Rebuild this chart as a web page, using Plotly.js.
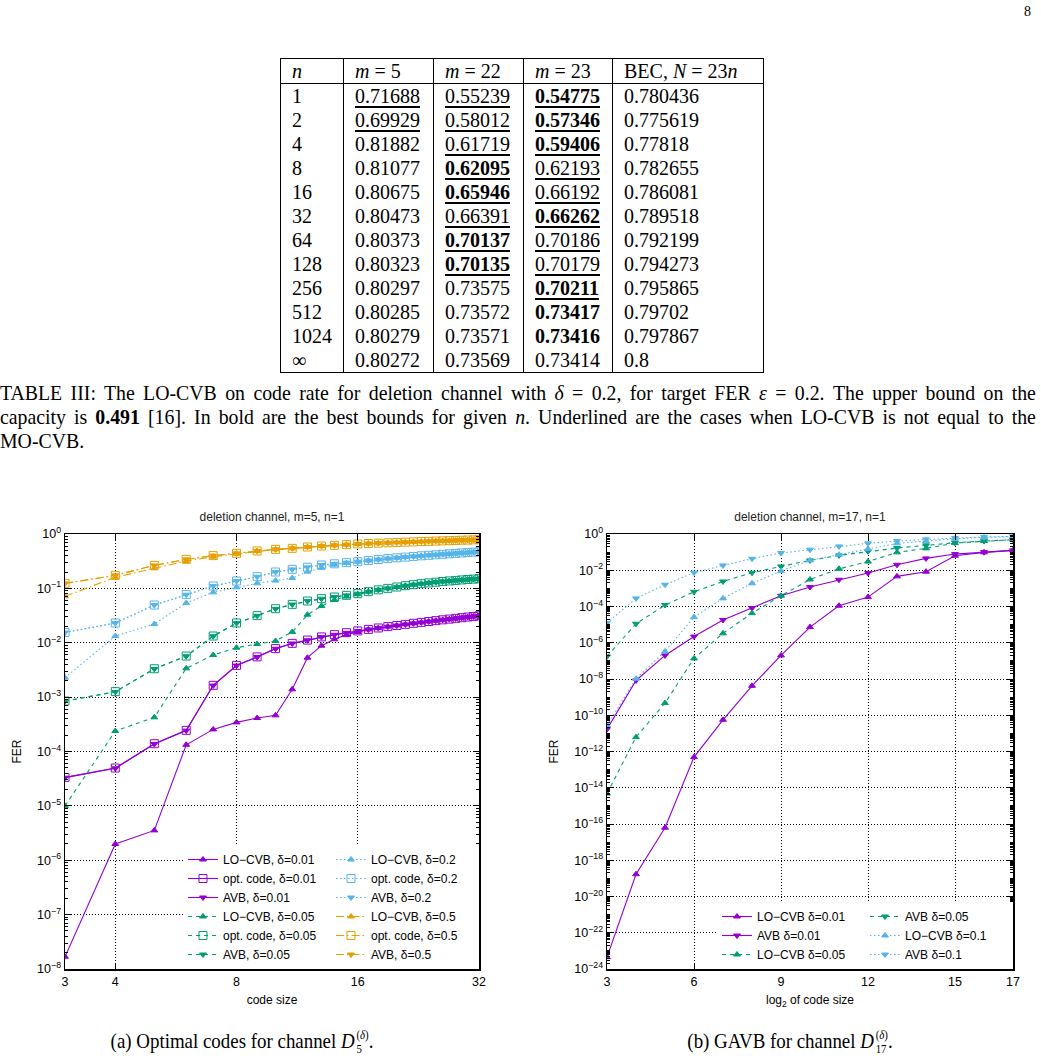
<!DOCTYPE html>
<html><head><meta charset="utf-8">
<script src="https://cdn.plot.ly/plotly-3.0.1.min.js"></script>
<style>
html,body{margin:0;padding:0;background:#fff;}
body{width:1041px;height:1059px;position:relative;overflow:hidden;font-family:"Liberation Serif","Times New Roman",serif;color:#000;}
#pg{position:absolute;left:1024px;top:4px;font-size:14px;}
#tbl{position:absolute;left:280px;top:58px;border-collapse:collapse;table-layout:fixed;font-size:20px;border:1.5px solid #000;}
#tbl td{padding:0 0 0 11px;height:24px;line-height:24px;border-left:1.5px solid #000;border-right:1.5px solid #000;white-space:nowrap;vertical-align:middle;}
#tbl tr.h td{border-bottom:1.5px solid #000;}
#tbl td.u span{text-decoration:underline;text-decoration-thickness:1.5px;text-underline-offset:3px;}
.cap{position:absolute;left:0;width:1151px;transform:scaleX(0.9);transform-origin:0 0;font-size:22px;line-height:24px;white-space:nowrap;}
.cap.j{text-align:justify;text-align-last:justify;}
.sub{position:absolute;top:1028px;font-size:21px;line-height:24px;transform:scaleX(0.9);transform-origin:50% 0;white-space:nowrap;}
.ss{display:inline-block;vertical-align:-5px;line-height:14px;font-size:12px;text-align:left;margin-left:2px;}
.ss span{display:block;height:14px;}
#chA{position:absolute;left:0;top:505px;width:520px;height:510px;}
#chB{position:absolute;left:525px;top:505px;width:516px;height:510px;}
</style></head>
<body>
<div id="pg">8</div>
<table id="tbl">
<colgroup><col style="width:63px"><col style="width:90px"><col style="width:90px"><col style="width:89px"><col style="width:151px"></colgroup>
<tbody id="tb"></tbody></table>
<div class="cap j" style="top:381px">TABLE III: The LO-CVB on code rate for deletion channel with <i>δ</i> = 0.2, for target FER <i>ε</i> = 0.2. The upper bound on the</div>
<div class="cap j" style="top:405px">capacity is <b>0.491</b> [16]. In bold are the best bounds for given <i>n</i>. Underlined are the cases when LO-CVB is not equal to the</div>
<div class="cap" style="top:429px">MO-CVB.</div>
<div id="chA"></div>
<div id="chB"></div>
<div class="sub" style="left:92px;width:300px;text-align:center">(a) Optimal codes for channel <i>D</i><span class="ss"><span>(<i>δ</i>)</span><span>5</span></span>.</div>
<div class="sub" style="left:640px;width:300px;text-align:center">(b) GAVB for channel <i>D</i><span class="ss"><span>(<i>δ</i>)</span><span>17</span></span>.</div>
<script>
// ---------- Table data ----------
const tblHeaders = ['<i>n</i>', '<i>m</i> = 5', '<i>m</i> = 22', '<i>m</i> = 23', 'BEC, <i>N</i> = 23<i>n</i>'];
const rowN = ['1','2','4','8','16','32','64','128','256','512','1024','∞'];
const colM5 = [0.71688,0.69929,0.81882,0.81077,0.80675,0.80473,0.80373,0.80323,0.80297,0.80285,0.80279,0.80272];
const colM22 = [0.55239,0.58012,0.61719,0.62095,0.65946,0.66391,0.70137,0.70135,0.73575,0.73572,0.73571,0.73569];
const colM23 = [0.54775,0.57346,0.59406,0.62193,0.66192,0.66262,0.70186,0.70179,0.70211,0.73417,0.73416,0.73414];
const colBEC = [0.780436,0.775619,0.77818,0.782655,0.786081,0.789518,0.792199,0.794273,0.795865,0.79702,0.797867,0.8];
const boldM5  = [0,0,0,0,0,0,0,0,0,0,0,0];
const underM5 = [1,1,0,0,0,0,0,0,0,0,0,0];
const boldM22  = [0,0,0,1,1,0,1,1,0,0,0,0];
const underM22 = [1,1,1,1,1,1,1,1,0,0,0,0];
const boldM23  = [1,1,1,0,0,1,0,0,1,1,1,0];
const underM23 = [1,1,1,1,1,1,1,1,1,0,0,0];

(function(){
  const tb = document.getElementById('tb');
  let h = '<tr class="h">' + tblHeaders.map(t => '<td>' + t + '</td>').join('') + '</tr>';
  const cell = (v, b, u) => {
    let s = String(v);
    if (b) s = '<b>' + s + '</b>';
    return '<td' + (u ? ' class="u"' : '') + '><span>' + s + '</span></td>';
  };
  for (let i = 0; i < rowN.length; i++) {
    h += '<tr><td>' + rowN[i] + '</td>' + cell(colM5[i], boldM5[i], underM5[i]) +
      cell(colM22[i], boldM22[i], underM22[i]) + cell(colM23[i], boldM23[i], underM23[i]) +
      cell(colBEC[i], 0, 0) + '</tr>';
  }
  tb.innerHTML = h;
})();

// ---------- Chart (a) data: deletion channel, m=5, n=1 ----------
const codeSize = [3,4,5,6,7,8,9,10,11,12,13,14,15,16,17,18,19,20,21,22,23,24,25,26,27,28,29,30,31,32];
const optA01 = [3.34e-5,4.97e-5,1.39e-4,2.45e-4,1.65e-3,3.84e-3,5.5e-3,7.8e-3,9.75e-3,1.12e-2,1.28e-2,1.41e-2,1.53e-2,1.65e-2,
  1.76e-2,1.87e-2,1.98e-2,2.08e-2,2.18e-2,2.28e-2,2.37e-2,2.46e-2,2.55e-2,2.64e-2,2.72e-2,2.81e-2,2.89e-2,2.97e-2,3.05e-2,3.13e-2];
const loA01 = [1.68e-8,1.99e-6,3.54e-6,1.33e-4,2.55e-4,3.43e-4,4.13e-4,4.62e-4,1.39e-3,5.31e-3,8.83e-3,1.16e-2,1.41e-2,1.58e-2,
  1.76e-2,1.87e-2,1.98e-2,2.08e-2,2.18e-2,2.28e-2,2.37e-2,2.46e-2,2.55e-2,2.64e-2,2.72e-2,2.81e-2,2.89e-2,2.97e-2,3.05e-2,3.13e-2];
const avbA01 = [3.3e-5,4.9e-5,1.37e-4,2.42e-4,1.63e-3,3.8e-3,5.45e-3,7.75e-3,9.7e-3,1.11e-2,1.27e-2,1.4e-2,1.52e-2,1.64e-2,
  1.75e-2,1.86e-2,1.97e-2,2.07e-2,2.17e-2,2.27e-2,2.36e-2,2.45e-2,2.54e-2,2.63e-2,2.71e-2,2.8e-2,2.88e-2,2.96e-2,3.04e-2,3.12e-2];

const optA05 = [8.48e-4,1.26e-3,3.33e-3,5.7e-3,1.33e-2,2.31e-2,3.15e-2,4.23e-2,5.08e-2,5.86e-2,6.47e-2,6.94e-2,7.45e-2,8.0e-2,
  0.087,0.094,0.100,0.106,0.112,0.117,0.122,0.126,0.130,0.134,0.137,0.140,0.143,0.146,0.148,0.151];
const loA05 = [1.0e-5,2.38e-4,4.25e-4,3.38e-3,5.95e-3,8.11e-3,9.48e-3,1.08e-2,1.58e-2,3.28e-2,4.74e-2,6.1e-2,7.1e-2,7.8e-2,
  0.087,0.094,0.100,0.106,0.112,0.117,0.122,0.126,0.130,0.134,0.137,0.140,0.143,0.146,0.148,0.151];
const avbA05 = [8.4e-4,1.25e-3,3.3e-3,5.65e-3,1.32e-2,2.29e-2,3.13e-2,4.2e-2,5.05e-2,5.83e-2,6.44e-2,6.91e-2,7.42e-2,7.97e-2,
  0.0867,0.0937,0.0997,0.1057,0.1117,0.1167,0.1217,0.1257,0.1297,0.1337,0.1367,0.1397,0.1427,0.1457,0.1477,0.1507];

const optA20 = [1.55e-2,2.31e-2,4.94e-2,7.66e-2,0.1106,0.1365,0.164,0.200,0.224,0.244,0.269,0.283,0.297,0.31,
  0.325,0.34,0.353,0.365,0.376,0.387,0.397,0.406,0.415,0.424,0.432,0.44,0.448,0.455,0.463,0.47];
const loA20 = [2.28e-3,1.33e-2,2.21e-2,5.38e-2,8.45e-2,0.1045,0.124,0.139,0.155,0.203,0.240,0.273,0.293,0.31,
  0.325,0.34,0.353,0.365,0.376,0.387,0.397,0.406,0.415,0.424,0.432,0.44,0.448,0.455,0.463,0.47];
const avbA20 = [1.54e-2,2.3e-2,4.92e-2,7.63e-2,0.1102,0.136,0.1635,0.1995,0.2235,0.2435,0.2685,0.2825,0.2965,0.3095,
  0.3245,0.3395,0.3525,0.3645,0.3755,0.3865,0.3965,0.4055,0.4145,0.4235,0.4315,0.4395,0.4475,0.4545,0.4625,0.4695];

const optA50 = [0.124,0.174,0.265,0.342,0.40,0.441,0.487,0.522,0.545,0.577,0.601,0.619,0.637,0.655,
  0.667,0.678,0.689,0.699,0.708,0.717,0.725,0.733,0.741,0.748,0.755,0.762,0.768,0.774,0.780,0.787];
const loA50 = [0.0713,0.16,0.234,0.319,0.383,0.435,0.487,0.522,0.545,0.577,0.601,0.619,0.637,0.655,
  0.667,0.678,0.689,0.699,0.708,0.717,0.725,0.733,0.741,0.748,0.755,0.762,0.768,0.774,0.780,0.787];
const avbA50 = [0.1235,0.1735,0.2645,0.3415,0.3995,0.4405,0.4865,0.5215,0.5445,0.5765,0.6005,0.6185,0.6365,0.6545,
  0.6665,0.6775,0.6885,0.6985,0.7075,0.7165,0.7245,0.7325,0.7405,0.7475,0.7545,0.7615,0.7675,0.7735,0.7795,0.7865];

const xTicksA = [3,4,8,16,32];
const yExpA = [-8,-7,-6,-5,-4,-3,-2,-1,0];

// ---------- Chart (b) data: deletion channel, m=17, n=1 ----------
const log2Size = [3,4,5,6,7,8,9,10,11,12,13,14,15,16,17];
const loB01  = [4.5e-24,1.7e-19,6.2e-17,4.9e-13,5.6e-11,4.2e-9,2.0e-7,7.3e-6,1.1e-4,3.3e-4,4.6e-3,8.3e-3,6.3e-2,9.7e-2,0.125];
const avbB01 = [1.7e-11,8.3e-9,2.0e-7,2.2e-6,1.8e-5,8.2e-5,3.9e-4,1.18e-3,3.0e-3,7.0e-3,2.0e-2,4.5e-2,7.8e-2,0.1,0.125];
const loB05  = [4.8e-15,6.2e-12,4.7e-10,1.36e-7,3.3e-6,4.3e-5,3.9e-4,3.1e-3,1.2e-2,3.0e-2,9.7e-2,0.161,0.317,0.41,0.484];
const avbB05 = [1.75e-7,1.12e-5,1.2e-4,6.5e-4,2.4e-3,7.3e-3,1.63e-2,3.5e-2,6.6e-2,0.11,0.168,0.236,0.331,0.41,0.484];
const loB10  = [2.8e-11,1.02e-8,3.3e-7,2.6e-5,2.8e-4,1.9e-3,9.0e-3,3.5e-2,7.2e-2,0.148,0.304,0.41,0.55,0.652,0.71];
const avbB10 = [1.22e-5,2.8e-4,1.6e-3,7.3e-3,1.85e-2,4.3e-2,8.9e-2,0.136,0.207,0.304,0.41,0.506,0.598,0.679,0.74];

const xTicksB = [3,6,9,12,15,17];
const yExpB = [-24,-22,-20,-18,-16,-14,-12,-10,-8,-6,-4,-2,0];

// ---------- Styling ----------
const F = '"Liberation Sans", Arial, Helvetica, sans-serif';
const C01 = '#9400D3', C05 = '#009E73', C20 = '#56B4E9', C50 = '#E69F00';
const D01 = 'solid', D05 = '4px,4px', D20 = '1.5px,2.5px', D50 = '8px,3px,1.5px,3px';

function tr(x, y, name, color, dash, sym, rank, size) {
  return {
    x: x, y: y, name: name, type: 'scatter', mode: 'lines+markers', legendrank: rank,
    line: {color: color, width: 1.1, dash: dash},
    marker: {symbol: sym, size: size, color: color, line: {color: color, width: 1}}
  };
}
function minorVals(lo, hi) {
  const v = [];
  for (let k = lo; k < hi; k++) for (let m = 2; m <= 9; m++) v.push(m * Math.pow(10, k));
  return v;
}
function powText(e) { return '10<sup>' + (e < 0 ? '\u2212' + (-e) : e) + '</sup>'; }

const axBase = {
  showline: true, linecolor: '#000', linewidth: 1.5, mirror: 'allticks',
  ticks: 'inside', ticklen: 6, tickcolor: '#000', tickwidth: 1,
  showgrid: true, gridcolor: '#000', griddash: '1px,2px', gridwidth: 1,
  zeroline: false, tickfont: {family: F, size: 12.5, color: '#000'}
};

// ----- chart A -----
const tracesA = [
  tr(codeSize, loA01,  'LO\u2212CVB, \u03b4=0.01', C01, D01, 'triangle-up', 1, 6),
  tr(codeSize, optA01, 'opt. code, \u03b4=0.01', C01, D01, 'square-open', 3, 8),
  tr(codeSize, avbA01, 'AVB, \u03b4=0.01', C01, D01, 'triangle-down', 5, 6),
  tr(codeSize, loA05,  'LO\u2212CVB, \u03b4=0.05', C05, D05, 'triangle-up', 7, 6),
  tr(codeSize, optA05, 'opt. code, \u03b4=0.05', C05, D05, 'square-open', 9, 8),
  tr(codeSize, avbA05, 'AVB, \u03b4=0.05', C05, D05, 'triangle-down', 11, 6),
  tr(codeSize, loA20,  'LO\u2212CVB, \u03b4=0.2', C20, D20, 'triangle-up', 2, 6),
  tr(codeSize, optA20, 'opt. code, \u03b4=0.2', C20, D20, 'square-open', 4, 8),
  tr(codeSize, avbA20, 'AVB, \u03b4=0.2', C20, D20, 'triangle-down', 6, 6),
  tr(codeSize, loA50,  'LO\u2212CVB, \u03b4=0.5', C50, D50, 'triangle-up', 8, 6),
  tr(codeSize, optA50, 'opt. code, \u03b4=0.5', C50, D50, 'square-open', 10, 8),
  tr(codeSize, avbA50, 'AVB, \u03b4=0.5', C50, D50, 'triangle-down', 12, 6)
];
const layoutA = {
  width: 520, height: 510, margin: {l: 65, r: 41, t: 29, b: 46},
  paper_bgcolor: '#fff', plot_bgcolor: '#fff',
  font: {family: F, size: 12, color: '#000'},
  title: {text: 'deletion channel, m=5, n=1', font: {family: F, size: 12, color: '#222'},
    x: 0.5, xref: 'paper', xanchor: 'center', y: 1 - 12 / 510, yref: 'container', yanchor: 'middle'},
  xaxis: Object.assign({}, axBase, {type: 'log', range: [Math.log10(3), Math.log10(32)],
    tickmode: 'array', tickvals: xTicksA, ticktext: xTicksA.map(String),
    title: {text: 'code size', font: {family: F, size: 12}, standoff: 8}}),
  yaxis: Object.assign({}, axBase, {type: 'log', range: [-8, 0],
    tickmode: 'array', tickvals: yExpA.map(e => Math.pow(10, e)), ticktext: yExpA.map(powText),
    minor: {tickmode: 'array', tickvals: minorVals(-8, 0), ticks: 'inside', ticklen: 3, tickcolor: '#000', showgrid: false},
    title: {text: 'FER', font: {family: F, size: 12}, standoff: 13}}),
  showlegend: true,
  legend: {orientation: 'h', x: 1, xanchor: 'right', y: 0, yanchor: 'bottom',
    entrywidth: 103, entrywidthmode: 'pixels', bgcolor: '#fff', borderwidth: 0,
    font: {family: F, size: 12, color: '#000'}, traceorder: 'normal', itemwidth: 30}
};
Plotly.newPlot('chA', tracesA, layoutA, {displayModeBar: false, staticPlot: true});

// ----- chart B -----
const tracesB = [
  tr(log2Size, loB01,  'LO\u2212CVB \u03b4=0.01', C01, D01, 'triangle-up', 1, 6),
  tr(log2Size, avbB01, 'AVB \u03b4=0.01', C01, D01, 'triangle-down', 3, 6),
  tr(log2Size, loB05,  'LO\u2212CVB \u03b4=0.05', C05, D05, 'triangle-up', 5, 6),
  tr(log2Size, avbB05, 'AVB \u03b4=0.05', C05, D05, 'triangle-down', 2, 6),
  tr(log2Size, loB10,  'LO\u2212CVB \u03b4=0.1', C20, D20, 'triangle-up', 4, 6),
  tr(log2Size, avbB10, 'AVB \u03b4=0.1', C20, D20, 'triangle-down', 6, 6)
];
const layoutB = {
  width: 516, height: 510, margin: {l: 82, r: 28, t: 29, b: 46},
  paper_bgcolor: '#fff', plot_bgcolor: '#fff',
  font: {family: F, size: 12, color: '#000'},
  title: {text: 'deletion channel, m=17, n=1', font: {family: F, size: 12, color: '#222'},
    x: 0.5, xref: 'paper', xanchor: 'center', y: 1 - 12 / 510, yref: 'container', yanchor: 'middle'},
  xaxis: Object.assign({}, axBase, {type: 'linear', range: [3, 17],
    tickmode: 'array', tickvals: xTicksB, ticktext: xTicksB.map(String),
    title: {text: 'log<sub>2</sub> of code size', font: {family: F, size: 12}, standoff: 8}}),
  yaxis: Object.assign({}, axBase, {type: 'log', range: [-24, 0],
    tickmode: 'array', tickvals: yExpB.map(e => Math.pow(10, e)), ticktext: yExpB.map(powText),
    minor: {tickmode: 'array', tickvals: minorVals(-24, 0).concat(yExpB.slice(1).map(e => Math.pow(10, e - 1))),
      ticks: 'inside', ticklen: 3, tickcolor: '#000', showgrid: false},
    title: {text: 'FER', font: {family: F, size: 12}, standoff: 13}}),
  showlegend: true,
  legend: {orientation: 'h', x: 1, xanchor: 'right', y: 0, yanchor: 'bottom',
    entrywidth: 103, entrywidthmode: 'pixels', bgcolor: '#fff', borderwidth: 0,
    font: {family: F, size: 12, color: '#000'}, traceorder: 'normal', itemwidth: 30}
};
Plotly.newPlot('chB', tracesB, layoutB, {displayModeBar: false, staticPlot: true});
</script>
</body></html>
